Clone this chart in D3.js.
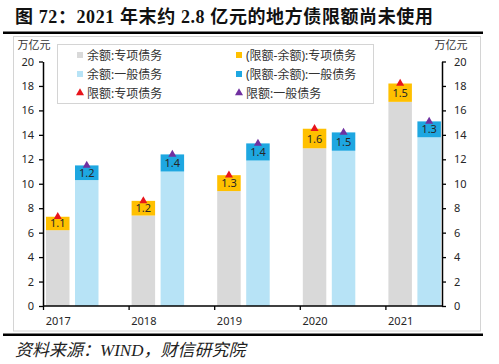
<!DOCTYPE html>
<html><head><meta charset="utf-8">
<script src="https://cdn.jsdelivr.net/npm/d3@7"></script>
<style>body{margin:0;background:#fff}svg{display:block}</style>
</head><body>
<svg id="c" width="499" height="364"></svg>
<script>
const years = ["2017","2018","2019","2020","2021"];
const specialBalance = [6.2, 7.4, 9.4, 12.9, 16.7];
const specialGap = [1.1, 1.2, 1.3, 1.6, 1.5];
const generalBalance = [10.3, 11.0, 11.9, 12.7, 13.8];
const generalGap = [1.2, 1.4, 1.4, 1.5, 1.3];
const specialLimit = [7.3, 8.6, 10.7, 14.5, 18.2];
const generalLimit = [11.5, 12.4, 13.3, 14.2, 15.1];
const yTicks = [0,2,4,6,8,10,12,14,16,18,20];
const legendItems = [
  {label:"余额:专项债务", type:"rect", color:"#d9d9d9"},
  {label:"余额:一般债务", type:"rect", color:"#b7e3f6"},
  {label:"限额:专项债务", type:"tri", color:"#e8141b"},
  {label:"(限额-余额):专项债务", type:"rect", color:"#ffc000"},
  {label:"(限额-余额):一般债务", type:"rect", color:"#1ea7e1"},
  {label:"限额:一般债务", type:"tri", color:"#7030a0"}
];
const colors = {sb:"#d9d9d9", sg:"#ffc000", gb:"#b7e3f6", gg:"#1ea7e1", sl:"#e8141b", gl:"#7030a0"};

const svg = d3.select("#c");
const sans = "'Noto Sans','Noto Sans CJK SC',sans-serif";
const L = 43, R = 442, B = 306, T = 61.5;
const step = 85.6;

// title
svg.append("text").attr("x", 15).attr("y", 23)
  .attr("font-family", "'Liberation Serif','Noto Sans CJK SC',serif")
  .attr("font-weight", "bold").attr("font-size", 18).attr("letter-spacing", 0.6).attr("fill", "#111")
  .text("图 72：2021 年末约 2.8 亿元的地方债限额尚未使用");
svg.append("rect").attr("x", 3).attr("y", 31.5).attr("width", 480).attr("height", 2.5).attr("fill", "#000");
svg.append("rect").attr("x", 13.5).attr("y", 36.5).attr("width", 467).attr("height", 294.5)
  .attr("fill", "none").attr("stroke", "#d4d4d4");
svg.append("rect").attr("x", 3).attr("y", 333.5).attr("width", 480).attr("height", 2.5).attr("fill", "#000");
svg.append("text").attr("x", 15).attr("y", 356)
  .attr("font-family", "'Liberation Serif','Noto Sans CJK SC',serif")
  .attr("font-style", "italic").attr("font-size", 17).attr("fill", "#222")
  .text("资料来源：WIND，财信研究院");

const x = d3.scaleBand().domain(years).range([L, L + step * years.length]).padding(0);
const y = d3.scaleLinear().domain([0, 20]).range([B, T]);
const barW = 23.5, offS = 3, offG = 32;

const g = svg.append("g");
years.forEach((yr, i) => {
  const x0 = x(yr);
  g.append("rect").attr("x", x0 + offS).attr("width", barW)
    .attr("y", y(specialBalance[i])).attr("height", y(0) - y(specialBalance[i])).attr("fill", colors.sb);
  g.append("rect").attr("x", x0 + offS).attr("width", barW)
    .attr("y", y(specialBalance[i] + specialGap[i])).attr("height", y(specialBalance[i]) - y(specialBalance[i] + specialGap[i])).attr("fill", colors.sg);
  g.append("rect").attr("x", x0 + offG).attr("width", barW)
    .attr("y", y(generalBalance[i])).attr("height", y(0) - y(generalBalance[i])).attr("fill", colors.gb);
  g.append("rect").attr("x", x0 + offG).attr("width", barW)
    .attr("y", y(generalBalance[i] + generalGap[i])).attr("height", y(generalBalance[i]) - y(generalBalance[i] + generalGap[i])).attr("fill", colors.gg);
  g.append("text").attr("x", x0 + offS + barW / 2).attr("y", y(specialBalance[i] + specialGap[i] / 2) + 4)
    .attr("text-anchor", "middle").attr("font-family", sans).attr("font-size", 11).attr("fill", "#262626")
    .text(d3.format(".1f")(specialGap[i]));
  g.append("text").attr("x", x0 + offG + barW / 2).attr("y", y(generalBalance[i] + generalGap[i] / 2) + 4)
    .attr("text-anchor", "middle").attr("font-family", sans).attr("font-size", 11).attr("fill", "#262626")
    .text(d3.format(".1f")(generalGap[i]));
});
const tri = d3.symbol().type(d3.symbolTriangle).size(28);
g.selectAll(".ts").data(years).join("path")
  .attr("transform", (d, i) => `translate(${x(d) + offS + barW / 2},${y(specialLimit[i])})`)
  .attr("d", tri).attr("fill", colors.sl);
g.selectAll(".tg").data(years).join("path")
  .attr("transform", (d, i) => `translate(${x(d) + offG + barW / 2},${y(generalLimit[i])})`)
  .attr("d", tri).attr("fill", colors.gl);

// axes
const axL = svg.append("g").attr("transform", `translate(${L},0)`)
  .call(d3.axisLeft(y).tickValues(yTicks).tickSize(4).tickSizeOuter(0).tickPadding(5));
const axR = svg.append("g").attr("transform", `translate(${R},0)`)
  .call(d3.axisRight(y).tickValues(yTicks).tickSize(4).tickSizeOuter(0).tickPadding(8));
const xt = d3.scaleOrdinal(years, years.map(d => x(d)));
const axB = svg.append("g").attr("transform", `translate(0,${B})`)
  .call(d3.axisBottom(xt).tickSize(4).tickPadding(7));
axB.select(".domain").remove();
axB.selectAll("text").attr("dx", offS + barW / 2);
svg.append("line").attr("x1", L).attr("x2", R).attr("y1", B).attr("y2", B)
  .attr("stroke", "#000").attr("stroke-width", 1.5);
[axL, axR, axB].forEach(a => {
  a.selectAll("text").attr("font-family", sans).attr("font-size", 11).attr("fill", "#262626");
  a.selectAll("line").attr("stroke", "#000").attr("stroke-width", 1.3);
  a.selectAll(".domain").attr("stroke", "#000").attr("stroke-width", 1.5);
});

// unit labels
svg.append("text").attr("x", 34).attr("y", 49).attr("text-anchor", "middle")
  .attr("font-family", sans).attr("font-size", 11).attr("fill", "#333").text("万亿元");
svg.append("text").attr("x", 451).attr("y", 49).attr("text-anchor", "middle")
  .attr("font-family", sans).attr("font-size", 11).attr("fill", "#333").text("万亿元");

// legend
svg.append("rect").attr("x", 57.5).attr("y", 44.5).attr("width", 316).attr("height", 59)
  .attr("fill", "#fff").attr("stroke", "#d4d4d4");
const lg = svg.append("g");
legendItems.forEach((it, i) => {
  const col = Math.floor(i / 3), row = i % 3;
  const lx = col === 0 ? 77 : 236, ly = 55 + row * 19;
  if (it.type === "rect") {
    lg.append("rect").attr("x", lx).attr("y", ly - 3).attr("width", 6).attr("height", 6).attr("fill", it.color);
  } else {
    lg.append("path").attr("transform", `translate(${lx + 3},${ly})`).attr("d", tri).attr("fill", it.color);
  }
  lg.append("text").attr("x", lx + 10).attr("y", ly + 4.5)
    .attr("font-family", sans).attr("font-size", 12).attr("fill", "#333").text(it.label);
});
</script>
</body></html>
